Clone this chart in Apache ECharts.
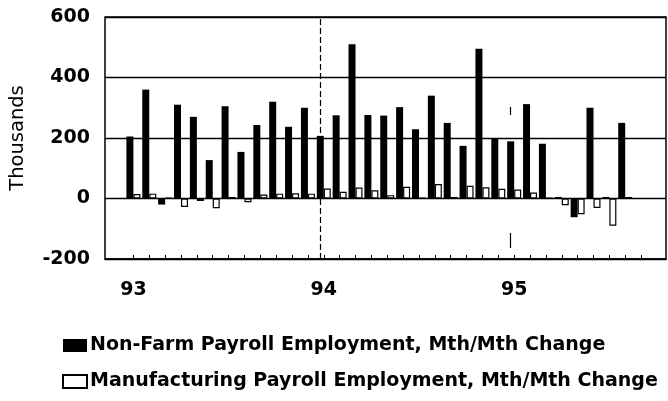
<!DOCTYPE html>
<html>
<head>
<meta charset="utf-8">
<script src="https://cdn.jsdelivr.net/npm/echarts@6/dist/echarts.min.js"></script>
<style>html,body{margin:0;padding:0;background:#fff;}#c{width:668px;height:401px;}</style>
</head>
<body>
<div id="c"></div>
<script>
// Months from Jan 1993 (index 0) to Aug 1995 (index 31)
var nonFarm = [205, 360, -20, 310, 270, 127, 305, 154, 243, 320, 237, 300,
               207, 275, 510, 276, 274, 302, 229, 340, 250, 174, 495, 199,
               189, 312, 181, 5, -62, 300, 5, 250];
var manufacturing = [15, 16, 3, -28, -8, -32, 5, -12, 13, 16, 17, 16,
                     33, 22, 36, 27, 11, 39, 2, 48, 5, 42, 37, 32,
                     30, 20, 2, -22, -52, -31, -90, 5];
var yearLabels = ['93', '94', '95'];
var yearIndex = [0, 12, 24];
var seriesNames = ['Non-Farm Payroll Employment, Mth/Mth Change',
                   'Manufacturing Payroll Employment, Mth/Mth Change'];

var FONT = 'DejaVu Sans';
var monthTicks = [];
for (var t = 0; t <= nonFarm.length; t++) monthTicks.push(t);
function pairs(arr) { return arr.map(function (v, i) { return [i, v]; }); }

var chart = echarts.init(document.getElementById('c'), null, {renderer: 'canvas'});
chart.setOption({
  animation: false,
  backgroundColor: '#fff',
  grid: {left: 102, right: 2, top: 17, bottom: 142, show: true, borderColor: '#000', borderWidth: 1.5, containLabel: false},
  xAxis: {
    type: 'value', min: -1.79, max: 33.57,
    axisLine: {show: true, onZero: false, lineStyle: {color: '#000', width: 1.5}},
    axisTick: {show: true, inside: true, length: 4, customValues: monthTicks, lineStyle: {color: '#000', width: 1}},
    axisLabel: {
      show: true, customValues: yearIndex, margin: 22,
      formatter: function (v) { var k = yearIndex.indexOf(Math.round(v)); return k >= 0 ? yearLabels[k] : ''; },
      color: '#000', fontFamily: FONT, fontWeight: 'bold', fontSize: 19
    },
    splitLine: {show: false}
  },
  yAxis: {
    type: 'value', min: -200, max: 600, interval: 200,
    name: 'Thousands', nameLocation: 'middle', nameGap: 77,
    nameTextStyle: {color: '#000', fontFamily: FONT, fontSize: 19.5},
    axisLine: {show: false}, axisTick: {show: false},
    axisLabel: {color: '#000', fontFamily: FONT, fontWeight: 'bold', fontSize: 19, margin: 15},
    splitLine: {show: true, lineStyle: {color: '#000', width: 1.3, type: 'solid'}}
  },
  legend: {
    orient: 'vertical', left: 62, top: 336, padding: 0, itemGap: 17,
    itemWidth: 24, itemHeight: 13, icon: 'rect',
    textStyle: {color: '#000', fontFamily: FONT, fontWeight: 'bold', fontSize: 19, padding: [0, 0, 0, -2]},
    data: seriesNames
  },
  series: [
    {
      name: seriesNames[0], type: 'bar', barWidth: 7, barGap: '0%',
      itemStyle: {color: '#000'},
      data: pairs(nonFarm),
      markLine: {
        silent: true, symbol: 'none', label: {show: false},
        data: [
          [{coord: [yearIndex[1], -200], lineStyle: {color: '#000', width: 1.2, type: [6, 3]}}, {coord: [yearIndex[1], 600]}],
          [{coord: [yearIndex[2], -200], lineStyle: {color: '#000', width: 1.2, type: [15, 118, 8, 600], dashOffset: 730}}, {coord: [yearIndex[2], 600]}]
        ]
      }
    },
    {
      name: seriesNames[1], type: 'bar', barWidth: 7, barGap: '0%',
      itemStyle: {color: '#fff', borderColor: '#000', borderWidth: 1.2},
      data: pairs(manufacturing)
    }
  ]
});
</script>
</body>
</html>
